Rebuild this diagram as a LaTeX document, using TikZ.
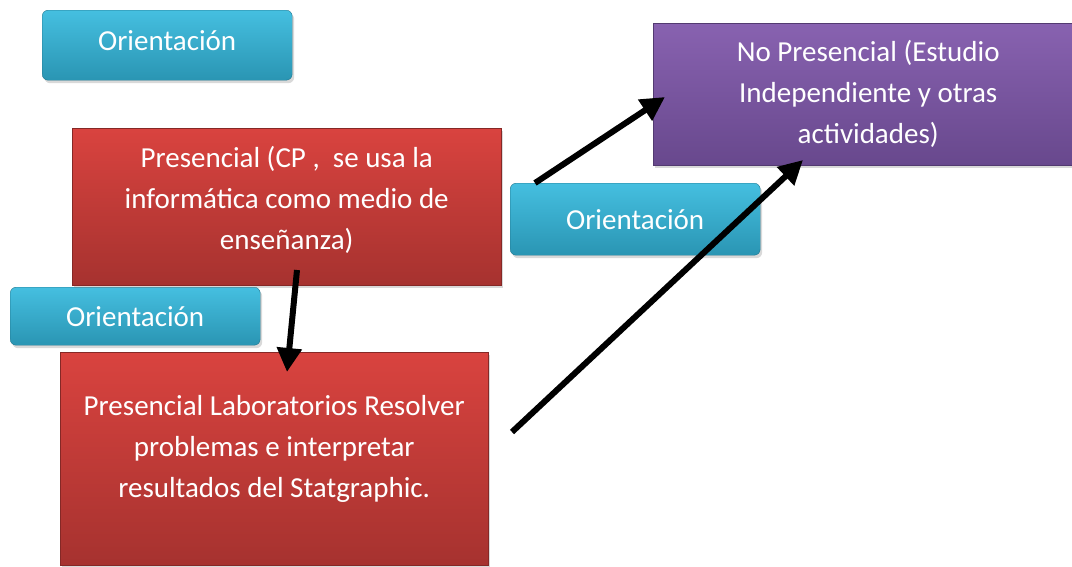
\documentclass[tikz,border=0pt]{standalone}
\usepackage{fontspec}
\setmainfont{Carlito}
\usepackage{tikz}
\usetikzlibrary{arrows.meta, positioning, shadows}

\definecolor{oritop}{HTML}{45BFE0}
\definecolor{oribot}{HTML}{2A95B3}
\definecolor{redtop}{HTML}{D9433F}
\definecolor{redbot}{HTML}{A6322F}
\definecolor{purtop}{HTML}{8862B0}
\definecolor{purbot}{HTML}{68488D}

\begin{document}
\begin{tikzpicture}[
    x=1pt, y=-1pt,
    every node/.style={font=\fontsize{29}{41}\selectfont, text=white},
    oribox/.style={rectangle, top color=oritop, bottom color=oribot, draw=oribot!80!black, line width=0.4pt, minimum width=250pt, rounded corners=6pt, align=center, anchor=north west, drop shadow={shadow xshift=2pt, shadow yshift=-3pt, opacity=0.3}},
    presbox/.style={rectangle, top color=redtop, bottom color=redbot, draw=redbot!80!black, line width=0.4pt, anchor=north west, drop shadow={shadow xshift=2pt, shadow yshift=-3pt, opacity=0.3}},
    nopresbox/.style={rectangle, top color=purtop, bottom color=purbot, draw=purbot!80!black, line width=0.4pt, align=center, anchor=north west, drop shadow={shadow xshift=2pt, shadow yshift=-3pt, opacity=0.3}},
    boxtext/.style={align=center},
    arrow/.style={-{Triangle[length=24pt, width=24pt]}, line width=6pt, black}
]
\useasboundingbox (0,0) rectangle (1072,566);

% Orientacion boxes
\node[oribox, minimum height=70pt, text depth=10pt] (ori_top) at (42,10) {Orientación};
\node[oribox, minimum height=58pt] (ori_mid) at (10,287) {Orientación};
\node[oribox, minimum height=72pt] (ori_right) at (510,183) {Orientación};

% Presencial boxes
\node[presbox, minimum width=429pt, minimum height=157pt] (pres_cp) at (72,128) {};
\node[boxtext, yshift=7pt] (pres_cp_text) at (pres_cp.center) {Presencial (CP ,\ \ se usa la\\informática como medio de\\enseñanza)};
\node[presbox, minimum width=428pt, minimum height=213pt] (pres_lab) at (60,352) {};
\node[boxtext, yshift=10pt] (pres_lab_text) at (pres_lab.center) {Presencial Laboratorios Resolver\\problemas e interpretar\\resultados del Statgraphic.};

% No presencial
\node[nopresbox, minimum width=430pt, minimum height=142pt] (nopres) at (653,23) {No Presencial (Estudio\\Independiente y otras\\actividades)};

% Arrow ends
\coordinate (a1_start) at (535,183);
\coordinate (a1_end) at (665,97);
\coordinate (a2_start) at (297,270);
\coordinate (a2_end) at (287,372);
\coordinate (a3_start) at (512,432);
\coordinate (a3_end) at (803,160);

% Arrows
\draw[arrow] (a1_start) -- (a1_end);
\draw[arrow] (a2_start) -- (a2_end);
\draw[arrow] (a3_start) -- (a3_end);

\end{tikzpicture}
\end{document}
